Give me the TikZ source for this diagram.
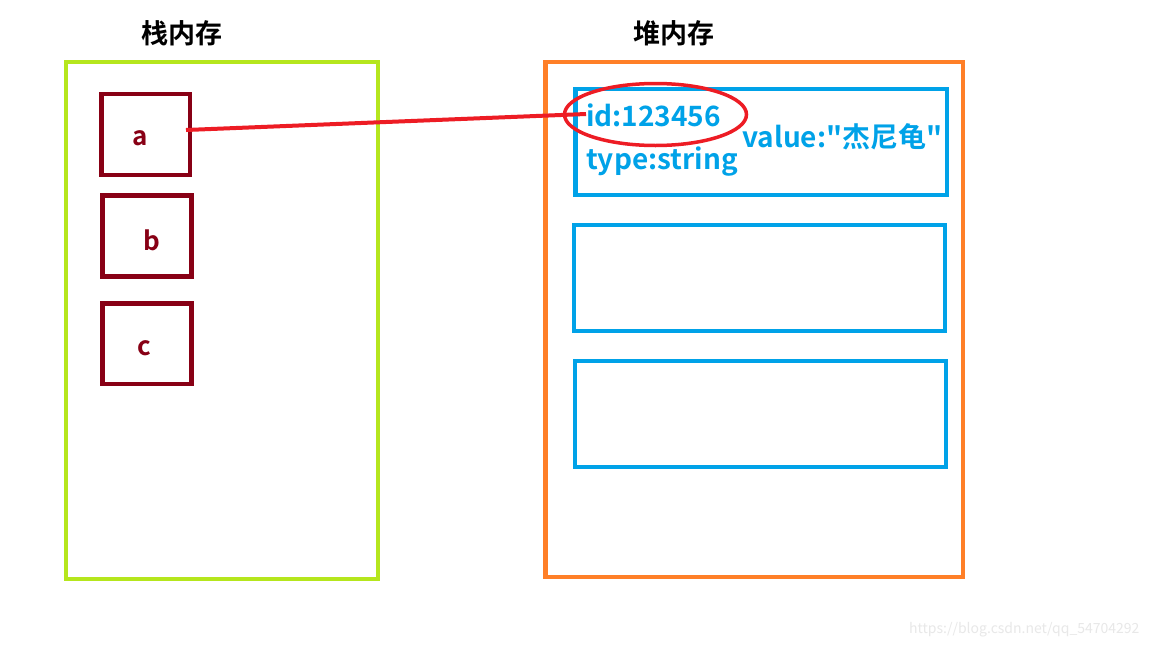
\documentclass[tikz,border=0pt]{standalone}
\usepackage{fontspec}
\usetikzlibrary{shapes.geometric}
\setmainfont{Noto Sans CJK SC}[BoldFont={* Bold}, Ligatures=TeXOff]
\definecolor{stackgreen}{HTML}{B5E61D}
\definecolor{heaporange}{HTML}{FF7F27}
\definecolor{cellred}{HTML}{880015}
\definecolor{heapblue}{HTML}{00A2E8}
\definecolor{linkred}{HTML}{ED1C24}
\definecolor{wmgray}{HTML}{E8E8E8}
\tikzset{
  area/.style={line width=4.5pt},
  cell/.style={draw=cellred, line width=4.5pt},
  slot/.style={draw=heapblue, line width=4.5pt},
  title/.style={font=\fontsize{27}{32}\selectfont\bfseries, text=black},
  celltext/.style={font=\fontsize{26}{31}\selectfont\bfseries, text=cellred},
  heaptext/.style={font=\fontsize{28}{33}\selectfont\bfseries, text=heapblue, inner sep=0pt, anchor=west},
}
\begin{document}
\begin{tikzpicture}[x=1pt,y=-1pt]
\useasboundingbox[fill=white] (0,0) rectangle (1152,648);
% areas
\draw[area, draw=stackgreen] (66,62) rectangle (378,579);
\draw[area, draw=heaporange] (545.5,62) rectangle (963,577);
\node[title] (stacktitle) at (182,33) {栈内存};
\node[title] (heaptitle) at (674,33) {堆内存};
% stack cells
\draw[cell] (101.5,94) rectangle (190,175);
\draw[cell] (102.5,195.5) rectangle (191.5,276.5);
\draw[cell] (102.5,303.5) rectangle (191.5,384);
\node[celltext] (la) at (140,138) {a};
\node[celltext] (lb) at (152,240) {b};
\node[celltext] (lc) at (144,348) {c};
% heap slots
\draw[slot] (575.5,89) rectangle (947,195);
\draw[slot] (574,225) rectangle (945,331);
\draw[slot] (575,361) rectangle (946,467);
\node[heaptext] (id) at (586,115) {id:123456};
\node[heaptext] (val) at (742,137) {value:"杰尼龟"};
\node[heaptext] (type) at (586,162) {type:string};
% ellipse and link
\node[draw=linkred, line width=3.5pt, ellipse, minimum width=182pt, minimum height=62pt, inner sep=0pt] (circ) at (655.5,114.5) {};
\coordinate (from) at (186,130);
\coordinate (to) at (586,114);
\draw[linkred, line width=4pt] (from) -- (to);
% watermark
\node[font=\fontsize{14}{16}\selectfont, text=wmgray, anchor=east] (wm) at (1143,630) {https://blog.csdn.net/qq\_54704292};
\end{tikzpicture}
\end{document}
